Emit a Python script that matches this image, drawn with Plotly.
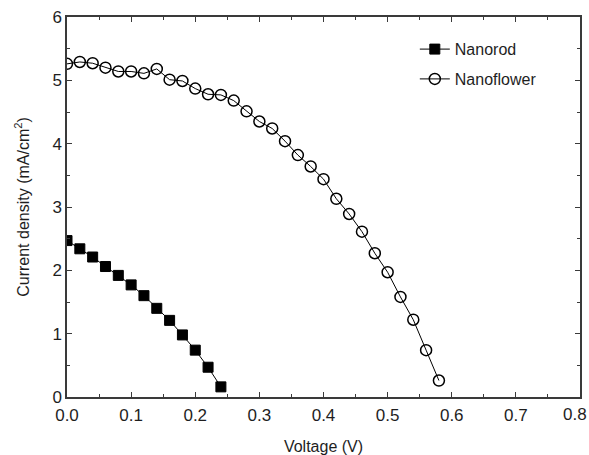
import plotly.graph_objects as go

# J-V curves of the two photoanode morphologies
nanorod_v = [0.00, 0.02, 0.04, 0.06, 0.08, 0.10, 0.12, 0.14, 0.16, 0.18, 0.20, 0.22, 0.24]
nanorod_j = [2.47, 2.34, 2.21, 2.06, 1.92, 1.77, 1.60, 1.40, 1.21, 0.98, 0.74, 0.47, 0.16]

nanoflower_v = [0.00, 0.02, 0.04, 0.06, 0.08, 0.10, 0.12, 0.14, 0.16, 0.18,
                0.20, 0.22, 0.24, 0.26, 0.28, 0.30, 0.32, 0.34, 0.36, 0.38,
                0.40, 0.42, 0.44, 0.46, 0.48, 0.50, 0.52, 0.54, 0.56, 0.58]
nanoflower_j = [5.26, 5.29, 5.27, 5.20, 5.14, 5.14, 5.11, 5.18, 5.01, 4.99,
                4.87, 4.78, 4.77, 4.68, 4.51, 4.35, 4.24, 4.04, 3.82, 3.64,
                3.44, 3.13, 2.89, 2.61, 2.27, 1.97, 1.58, 1.22, 0.74, 0.26]

x_ticks = [0.0, 0.1, 0.2, 0.3, 0.4, 0.5, 0.6, 0.7, 0.8]
x_tick_labels = ["0.0", "0.1", "0.2", "0.3", "0.4", "0.5", "0.6", "0.7", "0.8"]
y_ticks = [0, 1, 2, 3, 4, 5, 6]

FONT = "Liberation Sans, Arial, sans-serif"
TEXT_COLOR = "#1e1e1e"
AXIS_COLOR = "#3a3a3a"

# the last x label is drawn separately, nudged left so it stays on the page
x_tick_text = x_tick_labels[:-1] + [""]

fig = go.Figure()
fig.add_trace(go.Scatter(
    x=nanorod_v, y=nanorod_j, name="Nanorod", mode="lines+markers",
    legendgroup="rod",
    line=dict(color="black", width=1),
    marker=dict(symbol="square", size=10, color="black",
                line=dict(color="black", width=1)),
))
fig.add_trace(go.Scatter(
    x=nanoflower_v, y=nanoflower_j, name="Nanoflower", mode="lines+markers",
    legendgroup="flower",
    line=dict(color="black", width=1),
    marker=dict(symbol="circle-open", size=11, color="black",
                line=dict(color="black", width=1.5)),
))

axis_common = dict(
    showline=True, linecolor=AXIS_COLOR, linewidth=1.5, mirror="ticks",
    ticks="inside", ticklen=5, tickwidth=1.3, tickcolor=AXIS_COLOR,
    showgrid=False, zeroline=False, automargin=False,
    tickfont=dict(family=FONT, size=17, color=TEXT_COLOR),
)

fig.update_xaxes(
    range=[0, 0.8], tickvals=x_ticks, ticktext=x_tick_text,
    ticklabelstandoff=2,
    title=dict(text="Voltage (V)", font=dict(family=FONT, size=16, color=TEXT_COLOR), standoff=20),
    minor=dict(ticks="inside", dtick=0.05, ticklen=3, tickwidth=1.2, tickcolor=AXIS_COLOR),
    **axis_common,
)
fig.update_yaxes(
    range=[0, 6], tickvals=y_ticks,
    title=dict(text="Current density (mA/cm<sup>2</sup>)",
               font=dict(family=FONT, size=16, color=TEXT_COLOR), standoff=19),
    minor=dict(ticks="inside", dtick=0.5, ticklen=3, tickwidth=1.2, tickcolor=AXIS_COLOR),
    **axis_common,
)

fig.add_annotation(
    x=x_ticks[-1], xref="x", y=0, yref="paper",
    text=x_tick_labels[-1], showarrow=False,
    xanchor="center", yanchor="middle", xshift=-5, yshift=-17.5,
    font=dict(family=FONT, size=17, color=TEXT_COLOR),
)

fig.update_layout(
    width=589, height=455,
    margin=dict(l=67, r=9, t=17, b=58, autoexpand=False),
    paper_bgcolor="white", plot_bgcolor="white",
    font=dict(family=FONT, size=16, color=TEXT_COLOR),
    legend=dict(x=0.678, y=0.96, xanchor="left", yanchor="top",
                bgcolor="rgba(0,0,0,0)", font=dict(family=FONT, size=16, color=TEXT_COLOR),
                traceorder="grouped", tracegroupgap=6, itemwidth=30),
    showlegend=True,
)

fig.write_html("out.html")
